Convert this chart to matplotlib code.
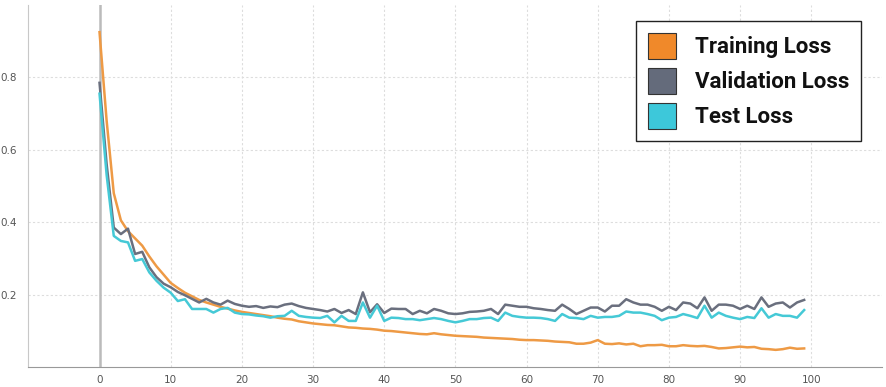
import numpy as np
import matplotlib
matplotlib.use("Agg")
import matplotlib.pyplot as plt
from matplotlib.patches import Patch

epochs = np.arange(100)

train_loss = [
    0.925, 0.68, 0.48, 0.405, 0.375, 0.355, 0.335, 0.305, 0.278, 0.255,
    0.232, 0.218, 0.205, 0.195, 0.185, 0.178, 0.172, 0.166, 0.161, 0.156,
    0.152, 0.149, 0.146, 0.143, 0.14, 0.136, 0.133, 0.131, 0.126, 0.123,
    0.12, 0.118, 0.116, 0.115, 0.112, 0.109, 0.108, 0.106, 0.105, 0.103,
    0.1, 0.099, 0.097, 0.095, 0.093, 0.091, 0.09, 0.093, 0.09, 0.088,
    0.086, 0.085, 0.084, 0.083, 0.081, 0.08, 0.079, 0.078, 0.077, 0.075,
    0.074, 0.074, 0.073, 0.072, 0.07, 0.069, 0.068, 0.064, 0.064, 0.067,
    0.074, 0.064, 0.063, 0.065, 0.062, 0.064, 0.057, 0.06, 0.06, 0.061,
    0.057, 0.057, 0.06, 0.058, 0.057, 0.058, 0.055, 0.051, 0.052, 0.054,
    0.056, 0.054, 0.055, 0.05, 0.049, 0.047, 0.049, 0.053, 0.05, 0.051,
]

val_loss = [
    0.785, 0.56, 0.385, 0.367, 0.382, 0.312, 0.318, 0.275, 0.248, 0.23,
    0.22, 0.207, 0.198, 0.188, 0.178, 0.188, 0.178, 0.172, 0.183, 0.174,
    0.169, 0.166, 0.168, 0.163, 0.167, 0.165, 0.172, 0.175, 0.168, 0.163,
    0.16, 0.157, 0.153, 0.16, 0.149, 0.157, 0.146, 0.206, 0.151, 0.173,
    0.149, 0.161, 0.16, 0.16, 0.146, 0.155, 0.148, 0.16, 0.155, 0.148,
    0.146, 0.148, 0.152, 0.153, 0.155, 0.16, 0.146, 0.172, 0.169, 0.166,
    0.166, 0.162, 0.16, 0.157, 0.155, 0.172, 0.16, 0.146, 0.155, 0.164,
    0.164, 0.153, 0.169, 0.169, 0.187, 0.178, 0.172, 0.172, 0.166, 0.155,
    0.166, 0.157, 0.178, 0.175, 0.162, 0.192, 0.155, 0.172, 0.172, 0.169,
    0.16, 0.169, 0.16, 0.192, 0.166, 0.175, 0.178, 0.164, 0.178, 0.185,
]

test_loss = [
    0.755, 0.53, 0.362, 0.348, 0.344, 0.293, 0.298, 0.261, 0.238, 0.219,
    0.205, 0.182, 0.187, 0.16, 0.16, 0.16, 0.15, 0.16, 0.163, 0.15,
    0.146, 0.145, 0.142, 0.14, 0.136, 0.14, 0.141, 0.155, 0.141, 0.138,
    0.136, 0.135, 0.141, 0.123, 0.141, 0.127, 0.127, 0.178, 0.136, 0.169,
    0.127, 0.136, 0.135, 0.132, 0.132, 0.129, 0.132, 0.135, 0.132, 0.127,
    0.123, 0.127, 0.132, 0.132, 0.135, 0.136, 0.127, 0.15, 0.141, 0.138,
    0.136, 0.136, 0.135, 0.132, 0.127, 0.146, 0.136, 0.135, 0.132, 0.141,
    0.136, 0.138, 0.138, 0.141, 0.153, 0.15, 0.15, 0.146, 0.141, 0.129,
    0.136, 0.138, 0.146, 0.141, 0.135, 0.169, 0.136, 0.15, 0.141, 0.136,
    0.132, 0.138, 0.135, 0.162, 0.136, 0.146, 0.141, 0.141, 0.136, 0.157,
]

labels = ["Training Loss", "Validation Loss", "Test Loss"]
line_colors = ["#EE9A45", "#6A6F7E", "#45C9D6"]
patch_colors = ["#F0892A", "#646B7B", "#3DC8DA"]

fig = plt.figure(figsize=(8.86, 3.87), dpi=100)
ax = fig.add_axes([0.032, 0.052, 0.964, 0.935])

ax.axvline(0, color="#BBBBBB", lw=1.8, zorder=2)
for y, c in zip([train_loss, val_loss, test_loss], line_colors):
    ax.plot(epochs, y, color=c, lw=1.8, zorder=3)

ax.set_xlim(-10, 110)
ax.set_ylim(0, 1.0)
ax.set_xticks(range(0, 101, 10))
ax.set_yticks([0.2, 0.4, 0.6, 0.8])
ax.grid(True, color="#DDDDDD", ls=(0, (2, 2)), lw=0.8)
ax.tick_params(length=0, labelsize=7.5, colors="#555555", pad=6)
ax.tick_params(axis="y", pad=8)

for s in ["top", "right"]:
    ax.spines[s].set_visible(False)
ax.spines["left"].set_color("#C8C8C8")
ax.spines["bottom"].set_color("#999999")

handles = [Patch(facecolor=c, edgecolor="#333333", lw=0.8) for c in patch_colors]
leg = ax.legend(handles, labels, loc="upper right", bbox_to_anchor=(0.983, 0.975),
                prop={"family": "Roboto", "size": 16, "weight": "bold"},
                handlelength=1.25, handleheight=1.4, handletextpad=0.85,
                labelspacing=0.42, borderpad=0.55, borderaxespad=0.3, fancybox=False,
                framealpha=1, edgecolor="#222222")
leg.get_frame().set_linewidth(1.0)
for t in leg.get_texts():
    t.set_color("#111111")

fig.savefig("out.png", dpi=100)
